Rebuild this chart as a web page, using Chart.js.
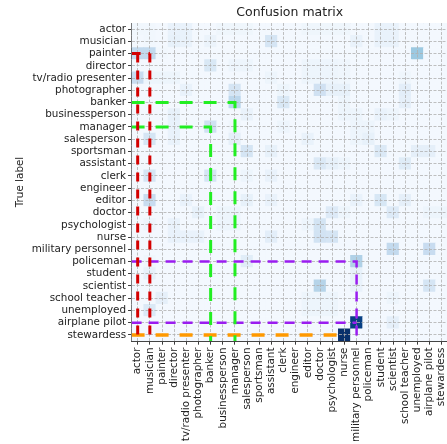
<!DOCTYPE html>
<html>
<head>
<meta charset="utf-8">
<title>Confusion matrix</title>
<script src="https://cdn.jsdelivr.net/npm/chart.js@4/dist/chart.umd.min.js"></script>
<style>
  html, body { margin: 0; padding: 0; background: #fff; overflow: hidden; }
  #wrap { width: 460px; height: 444px; }
</style>
</head>
<body>
<div id="wrap"><canvas id="cm"></canvas></div>
<script>
const labels = ["actor", "musician", "painter", "director", "tv/radio presenter", "photographer",
  "banker", "businessperson", "manager", "salesperson", "sportsman", "assistant", "clerk",
  "engineer", "editor", "doctor", "psychologist", "nurse", "military personnel", "policeman",
  "student", "scientist", "school teacher", "unemployed", "airplane pilot", "stewardess"];

// rows = true label, columns = predicted label
const counts = [
  [3,3,2,7,7,2,2,4,4,4,2,2,2,2,4,4,4,4,2,2,7,7,2,2,2,2],
  [2,3,2,8,7,2,6,2,2,2,2,17,2,2,2,2,2,2,7,2,7,7,2,2,2,2],
  [26,26,3,2,2,2,2,2,2,2,2,2,2,2,2,2,2,2,2,2,2,2,2,38,2,2],
  [2,2,2,2,2,2,15,2,5,5,2,2,2,2,5,5,5,4,2,2,2,2,2,2,2,2],
  [24,5,5,5,2,2,2,2,2,2,2,5,2,2,5,5,5,4,2,2,2,2,4,2,2,2],
  [2,2,2,2,7,2,2,2,17,2,2,2,5,2,2,20,8,8,2,2,2,2,10,2,2,2],
  [2,2,2,2,2,2,2,2,28,2,2,2,15,2,2,2,2,5,2,2,2,2,9,2,2,2],
  [2,2,2,8,2,2,2,2,2,7,2,2,2,2,2,2,2,5,5,2,7,5,2,2,2,2],
  [2,2,2,7,2,2,20,2,4,2,2,2,5,2,2,2,2,2,5,5,2,2,2,2,2,2],
  [2,17,2,7,2,2,2,2,9,2,2,2,2,2,7,2,2,2,5,8,2,2,2,2,2,2],
  [2,2,2,2,2,2,2,2,2,17,2,8,2,2,2,2,2,2,2,2,14,2,2,9,9,2],
  [2,2,2,2,2,2,2,2,2,2,2,2,2,2,2,14,8,5,2,2,2,2,12,2,2,2],
  [2,17,2,2,2,2,17,2,2,5,2,7,2,2,2,2,2,2,2,2,2,2,2,2,2,2],
  [2,2,2,2,2,2,2,2,2,2,2,2,2,2,2,2,2,2,2,2,2,2,2,2,2,2],
  [2,24,2,2,7,2,2,2,2,8,2,7,2,2,2,2,2,2,7,2,16,2,9,2,2,2],
  [2,2,2,2,2,8,2,5,5,2,2,2,2,2,2,2,13,5,2,2,2,13,2,2,5,5],
  [2,5,2,7,2,2,2,5,5,2,2,2,2,2,5,18,2,2,2,2,2,2,2,2,2,2],
  [2,2,2,7,7,7,2,2,2,2,2,10,2,2,2,19,17,2,2,2,2,2,2,2,2,2],
  [2,2,2,2,2,2,2,2,2,2,2,2,2,2,2,2,2,2,2,2,2,26,2,2,24,2],
  [2,4,2,2,2,2,2,2,2,11,2,2,2,2,2,2,2,2,32,2,2,2,2,2,2,2],
  [2,8,2,2,2,2,2,2,2,2,2,2,2,2,2,2,2,2,8,2,2,2,2,2,2,2],
  [2,2,2,2,2,2,2,2,2,2,2,2,2,2,2,30,2,2,7,2,2,2,2,2,17,2],
  [2,2,9,2,2,2,2,2,2,2,2,2,2,2,5,5,5,2,2,2,2,5,2,2,2,2],
  [2,14,2,2,2,2,2,2,2,2,2,2,2,2,5,5,5,2,2,2,2,2,2,2,2,2],
  [2,2,2,2,2,2,2,2,2,2,2,2,2,2,2,2,2,2,94,2,2,9,2,2,2,2],
  [2,2,2,2,2,2,2,2,2,2,2,2,2,2,2,2,2,100,2,2,2,2,2,2,2,2]
];

// highlight paths, in (column, row) units
const redPaths = [
  [[-0.5, 2], [1, 2]],
  [[0, 2], [0, 25.5]],
  [[1, 2], [1, 25.5]]
];
const greenPaths = [
  [[-0.5, 6], [8, 6], [8, 25.5]],
  [[-0.5, 8], [6, 8], [6, 25.5]]
];
const purplePaths = [
  [[-0.5, 19], [18, 19], [18, 25.5]],
  [[-0.5, 24], [18, 24]]
];
const orangePaths = [
  [[-0.5, 25], [17, 25]]
];

const BLUES = [[247,251,255],[222,235,247],[198,219,239],[158,202,225],[107,174,214],
  [66,146,198],[33,113,181],[8,81,156],[8,48,107]];
function blues(t) {
  t = Math.max(0, Math.min(1, t)) * 8;
  const i = Math.min(7, Math.floor(t)), f = t - i;
  const a = BLUES[i], b = BLUES[i + 1];
  return "rgb(" + a.map((v, k) => Math.round(v + (b[k] - v) * f)).join(",") + ")";
}

const vmax = Math.max(...counts.flat());
const cells = [];
const cellColors = [];
counts.forEach((row, r) => {
  row.forEach((v, c) => {
    cells.push({ x: c, y: [r - 0.5, r + 0.5] });
    cellColors.push(blues(v / vmax));
  });
});

function pathDatasets(paths, color, width, dash) {
  return paths.map(p => ({
    type: "line",
    data: p.map(([x, y]) => ({ x, y })),
    borderColor: color,
    borderWidth: width,
    borderDash: dash,
    pointRadius: 0,
    fill: false,
    tension: 0,
    order: 1
  }));
}

const FONT = "'DejaVu Sans', sans-serif";
const TXT = "#222";
const intTicks = axis => { axis.ticks = labels.map((_, i) => ({ value: i })); };

// redraw the dashed grid over the cells, under the highlight lines
const gridOnTop = {
  id: "gridOnTop",
  afterDatasetDraw(chart, args) {
    if (args.meta.type !== "bar") return;
    chart.scales.x.drawGrid(chart.chartArea);
    chart.scales.y.drawGrid(chart.chartArea);
  }
};

const gridOpts = {
  color: "#b0b0b0",
  lineWidth: 0.8,
  offset: false,
  tickColor: "#333",
  tickLength: 3.5,
  tickWidth: 0.8
};
const borderOpts = { color: "#444", width: 1, dash: [3, 1.5] };

new Chart(document.getElementById("cm"), {
  type: "bar",
  data: {
    datasets: [
      {
        type: "bar",
        data: cells,
        backgroundColor: cellColors,
        borderWidth: 0,
        barPercentage: 1,
        categoryPercentage: 1,
        order: 2
      },
      ...pathDatasets(redPaths, "#d40000", 3, [9, 8]),
      ...pathDatasets(greenPaths, "#22ee22", 3, [13, 11]),
      ...pathDatasets(purplePaths, "#9a1cf0", 2.5, [10, 7]),
      ...pathDatasets(orangePaths, "#ff9900", 3.5, [13, 11])
    ]
  },
  options: {
    responsive: true,
    maintainAspectRatio: false,
    animation: false,
    layout: { padding: { left: 0, right: 12.2, top: 0, bottom: 0 } },
    plugins: {
      legend: { display: false },
      tooltip: { enabled: false },
      title: {
        display: true,
        text: "Confusion matrix",
        fullSize: false,
        color: TXT,
        font: { family: FONT, size: 12.5, weight: "normal" },
        padding: { top: 5, bottom: 3 }
      }
    },
    scales: {
      x: {
        type: "linear",
        position: "bottom",
        min: -0.5,
        max: 25.5,
        offset: false,
        afterBuildTicks: intTicks,
        afterFit: a => { a.height = 103; },
        ticks: {
          autoSkip: false,
          minRotation: 90,
          maxRotation: 90,
          padding: 3,
          color: TXT,
          font: { family: FONT, size: 10.4 },
          callback: v => labels[v]
        },
        grid: gridOpts,
        border: borderOpts
      },
      xTop: {
        type: "linear",
        position: "top",
        min: -0.5,
        max: 25.5,
        afterFit: a => { a.height = 0; },
        ticks: { display: false },
        grid: { display: false },
        border: { color: "#444", width: 1 }
      },
      y: {
        type: "linear",
        reverse: true,
        min: -0.5,
        max: 25.5,
        beginAtZero: false,
        afterBuildTicks: intTicks,
        afterFit: a => { a.width = 131.6; },
        ticks: {
          autoSkip: false,
          padding: 2,
          color: TXT,
          font: { family: FONT, size: 10.4 },
          callback: v => labels[v]
        },
        title: {
          display: true,
          text: "True label",
          color: TXT,
          font: { family: FONT, size: 10.4 },
          padding: { top: 14, bottom: 0 }
        },
        grid: gridOpts,
        border: borderOpts
      }
    }
  },
  plugins: [gridOnTop]
});
</script>
</body>
</html>
